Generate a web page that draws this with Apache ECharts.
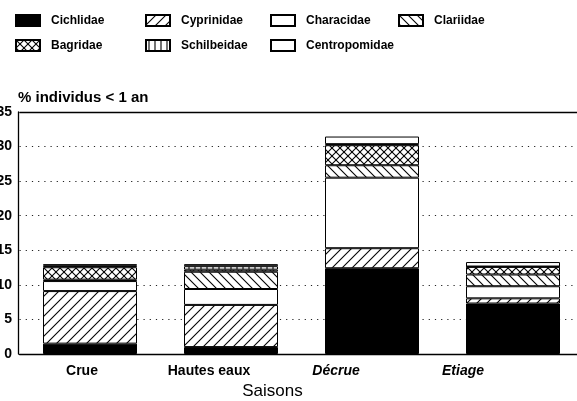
<!DOCTYPE html>
<html>
<head>
<meta charset="utf-8">
<script src="https://cdn.jsdelivr.net/npm/echarts@6/dist/echarts.min.js"></script>
<style>
html, body { margin: 0; padding: 0; background: #fff; }
#chart { width: 577px; height: 401px; }
</style>
</head>
<body>
<div id="chart"></div>
<script>
// saisons
const categories = ['Crue', 'Hautes eaux', 'Décrue', 'Etiage']
// % individus < 1 an, par famille (empilé du bas vers le haut)
const cichlidae = [1.5, 1.0, 12.4, 7.3]
const cyprinidae = [7.6, 6.1, 2.9, 0.75]
const characidae = [1.45, 2.3, 10.2, 1.75]
const clariidae = [0.2, 2.5, 1.8, 1.7]
const bagridae = [1.8, 0.3, 2.9, 1.1]
const schilbeidae = [0.2, 0.5, 0.15, 0.05]
const centropomidae = [0.25, 0.3, 1.1, 0.65]
const yMin = 0
const yMax = 35
const yStep = 5

// petits motifs de hachures dessinés à la main
function makePattern (kind) {
  const s = kind === 'vert' ? 6 : (kind === 'cross' ? 8 : (kind === 'back' ? 9 : 10))
  const c = document.createElement('canvas')
  c.width = s
  c.height = s
  const ctx = c.getContext('2d')
  ctx.fillStyle = '#fff'
  ctx.fillRect(0, 0, s, s)
  ctx.strokeStyle = '#000'
  ctx.lineWidth = 1.1
  const fwd = () => {
    for (let k = -1; k <= 1; k++) {
      ctx.beginPath()
      ctx.moveTo(-1 + k * s, s + 1)
      ctx.lineTo(s + 1 + k * s, -1)
      ctx.stroke()
    }
  }
  const back = () => {
    for (let k = -1; k <= 1; k++) {
      ctx.beginPath()
      ctx.moveTo(-1 + k * s, -1)
      ctx.lineTo(s + 1 + k * s, s + 1)
      ctx.stroke()
    }
  }
  if (kind === 'fwd') fwd()
  if (kind === 'back') back()
  if (kind === 'cross') { fwd(); back() }
  if (kind === 'vert') {
    ctx.beginPath()
    ctx.moveTo(3, 0)
    ctx.lineTo(3, s)
    ctx.stroke()
  }
  return { image: c, repeat: 'repeat' }
}

const families = [
  { name: 'Cichlidae', data: cichlidae, fill: '#000' },
  { name: 'Cyprinidae', data: cyprinidae, fill: makePattern('fwd') },
  { name: 'Characidae', data: characidae, fill: '#fff' },
  { name: 'Clariidae', data: clariidae, fill: makePattern('back') },
  { name: 'Bagridae', data: bagridae, fill: makePattern('cross') },
  { name: 'Schilbeidae', data: schilbeidae, fill: makePattern('vert') },
  { name: 'Centropomidae', data: centropomidae, fill: '#fff' }
]

// position des entrées de légende (colonne, ligne)
const legendSlots = [[15, 14], [145, 14], [270, 14], [398, 14], [15, 39], [145, 39], [270, 39]]

const font = 'Liberation Sans, Arial, sans-serif'

const series = families.map((f, i) => {
  const s = {
    name: f.name,
    type: 'bar',
    stack: 'total',
    xAxisIndex: 0,
    yAxisIndex: 0,
    barWidth: 94,
    data: f.data,
    itemStyle: {
      color: f.fill,
      borderColor: '#000',
      borderWidth: 1
    },
    emphasis: { disabled: true }
  }
  if (i === 0) {
    s.markLine = {
      silent: true,
      symbol: 'none',
      label: { show: false },
      lineStyle: { color: '#000', type: 'solid', width: 1.3 },
      data: [{ yAxis: yMax }]
    }
  }
  return s
})

const chart = echarts.init(document.getElementById('chart'), null, { renderer: 'canvas' })
chart.setOption({
  animation: false,
  backgroundColor: '#fff',
  legend: families.map((f, i) => ({
    data: [f.name],
    left: legendSlots[i][0],
    top: legendSlots[i][1],
    padding: 0,
    icon: 'rect',
    itemWidth: 24,
    itemHeight: 11,
    selectedMode: false,
    textStyle: { fontFamily: font, fontSize: 12, fontWeight: 'bold', color: '#000', padding: [0, 0, 0, 6] }
  })),
  grid: [
    { left: 19.5, right: -6.5, top: 112, bottom: 47, containLabel: false, outerBoundsMode: 'none' },
    { left: 18.5, right: 50.5, top: 112, bottom: 47, containLabel: false, outerBoundsMode: 'none' }
  ],
  xAxis: [
    {
      type: 'category',
      gridIndex: 0,
      data: categories,
      axisLine: { lineStyle: { color: '#000', width: 1.3 } },
      axisTick: { show: false },
      axisLabel: { show: false }
    },
    {
      type: 'category',
      gridIndex: 1,
      data: categories,
      name: 'Saisons',
      nameLocation: 'middle',
      nameGap: 25,
      nameTextStyle: { fontFamily: font, fontSize: 17, color: '#000' },
      axisLine: { show: false },
      axisTick: { show: false },
      axisLabel: {
        margin: 10,
        fontFamily: font,
        fontSize: 14,
        fontWeight: 'bold',
        color: '#000',
        formatter: (v) => (v === 'Décrue' || v === 'Etiage') ? `{i|${v}}` : v,
        rich: { i: { fontFamily: font, fontSize: 14, fontWeight: 'bold', fontStyle: 'italic', color: '#000' } }
      }
    }
  ],
  yAxis: [
    {
      type: 'value',
      gridIndex: 0,
      min: yMin,
      max: yMax,
      interval: yStep,
      offset: 1.5,
      name: '% individus < 1 an',
      nameLocation: 'end',
      nameGap: 7,
      nameTextStyle: { fontFamily: font, fontSize: 15, fontWeight: 'bold', color: '#000', align: 'left' },
      axisLine: { show: true, lineStyle: { color: '#000', width: 1.3 } },
      axisTick: { show: false },
      axisLabel: { margin: 6, fontFamily: font, fontSize: 14, fontWeight: 'bold', color: '#000' },
      splitLine: { show: true, lineStyle: { color: '#222', type: [1.2, 5], width: 1.2 } }
    },
    {
      type: 'value',
      gridIndex: 1,
      min: yMin,
      max: yMax,
      show: false,
      splitLine: { show: false }
    }
  ],
  series: series
})
</script>
</body>
</html>
